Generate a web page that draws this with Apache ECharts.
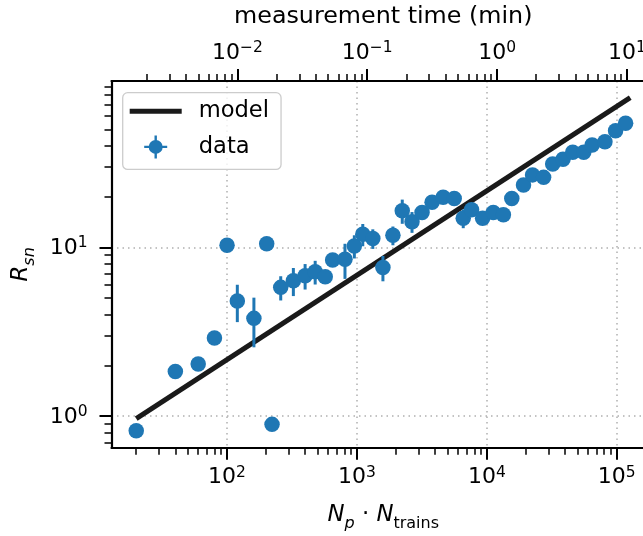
<!DOCTYPE html>
<html>
<head>
<meta charset="utf-8">
<script src="https://cdn.jsdelivr.net/npm/echarts@6/dist/echarts.min.js"></script>
<style>
html, body { margin: 0; padding: 0; background: #fff; }
#chart { width: 643px; height: 536px; }
</style>
</head>
<body>
<div id="chart"></div>
<script>
// measured points: N_p * N_trains, R_sn and its (symmetric) error
const nValues = [20, 40, 60, 80, 100, 120, 161, 202, 222, 259, 324, 399, 477, 570, 650, 809, 955, 1109, 1325, 1585,
    1892, 2233, 2654, 3171, 3788, 4609, 5608, 6580, 7625, 9275, 11210, 13410, 15560, 19150, 22480, 27350, 32130,
    38570, 45830, 55720, 64660, 81100, 97930, 117000];
const rValues = [0.82, 1.84, 2.04, 2.91, 10.3, 4.81, 3.80, 10.5, 0.895, 5.80, 6.35, 6.80, 7.18, 6.70, 8.42, 8.51, 10.2, 11.96, 11.3, 7.6,
    11.8, 16.5, 14.2, 16.1, 18.5, 19.8, 19.5, 14.9, 16.7, 14.9, 16.1, 15.6, 19.5, 23.4, 26.9, 26.0, 31.2,
    33.3, 36.6, 36.6, 40.4, 42.3, 49.1, 54.4];
const rErrors = [0.03, 0.08, 0.08, 0.12, 0.3, 1.2, 1.24, 0.3, 0.03, 0.95, 1.2, 1.17, 1.15, 0.4, 0.5, 2.0, 1.6, 1.8, 1.5, 1.3,
    1.5, 2.7, 2.0, 0.8, 0.8, 0.8, 0.8, 1.9, 0.9, 0.8, 0.8, 0.7, 0.8, 0.8, 0.9, 0.8, 0.9,
    1.0, 1.0, 1.0, 1.0, 1.0, 1.2, 1.3];

// model line end points
const modelN = [20, 127000];
const modelR = [0.967, 77.1];

// axis limits and ticks
const xRange = [12.9, 197000];
const timeRange = [1.074e-3, 16.43];
const yRange = [0.651, 96.8];
const xMajorTicks = [100, 1000, 10000, 100000];
const xMinorTicks = [20, 30, 40, 50, 60, 70, 80, 90, 200, 300, 400, 500, 600, 700, 800, 900,
    2000, 3000, 4000, 5000, 6000, 7000, 8000, 9000, 20000, 30000, 40000, 50000, 60000, 70000, 80000, 90000];
const timeMajorTicks = [0.01, 0.1, 1, 10];
const timeMinorTicks = [0.002, 0.003, 0.004, 0.005, 0.006, 0.007, 0.008, 0.009, 0.02, 0.03, 0.04, 0.05, 0.06, 0.07, 0.08, 0.09,
    0.2, 0.3, 0.4, 0.5, 0.6, 0.7, 0.8, 0.9, 2, 3, 4, 5, 6, 7, 8, 9];
const yMajorTicks = [1, 10];
const yMinorTicks = [0.7, 0.8, 0.9, 2, 3, 4, 5, 6, 7, 8, 9, 20, 30, 40, 50, 60, 70, 80, 90];

const FONT = "DejaVu Sans";
const BLUE = "#1f77b4";

let chart = echarts.init(document.getElementById("chart"), null, { renderer: "canvas" });

const powRich = {
    b: { fontSize: 22, fontFamily: FONT, color: "#000", verticalAlign: "bottom", padding: [2, 0, 0, 0] },
    s: { fontSize: 15.5, fontFamily: FONT, color: "#000", verticalAlign: "top" }
};

function powLabel(v) {
    let e = Math.round(Math.log10(v));
    return "{b|10}{s|" + (e < 0 ? "\u2212" + (-e) : e) + "}";
}

function majorAxis(extra) {
    return Object.assign({
        type: "log",
        logBase: 10,
        axisLine: { show: true, lineStyle: { color: "#000", width: 2.2 } },
        axisTick: { show: true, length: 12, lineStyle: { color: "#000", width: 2 } },
        axisLabel: { show: true, formatter: powLabel, rich: powRich, margin: 17 },
        splitLine: { show: false },
        axisPointer: { show: false }
    }, extra);
}

function minorAxis(extra) {
    return Object.assign({
        type: "log",
        logBase: 10,
        axisLine: { show: false },
        axisLabel: { show: false },
        axisTick: { show: true, length: 7, lineStyle: { color: "#000", width: 1.5 } },
        splitLine: { show: false },
        axisPointer: { show: false }
    }, extra);
}

const gridDots = { show: true, lineStyle: { color: "#b0b0b0", width: 1.5, type: [1.5, 4] } };

let option = {
    animation: false,
    backgroundColor: "#fff",
    grid: { left: 111.5, right: -12, top: 81, bottom: 88.3, outerBoundsMode: "none", containLabel: false },
    legend: {
        orient: "vertical",
        left: 122.7,
        top: 92.7,
        itemWidth: 64,
        itemHeight: 23,
        itemGap: 12.7,
        padding: [7, 12, 11, 7],
        backgroundColor: "rgba(255,255,255,0.8)",
        borderColor: "#cccccc",
        borderWidth: 1.3,
        borderRadius: 5,
        textStyle: { fontSize: 22.6, fontFamily: FONT, color: "#000" },
        data: [
            { name: "model", icon: "path://M0,0 M64,23 M0,9 L52,9 L52,14 L0,14 Z",
              itemStyle: { color: "#1a1a1a", borderWidth: 0 } },
            { name: "data", icon: "path://M0,0 M64,23 M24.8,0 L27.2,0 L27.2,23 L24.8,23 Z M14.5,10.3 L37.5,10.3 L37.5,12.7 L14.5,12.7 Z M33,11.5 A7,7 0 1 1 19,11.5 A7,7 0 1 1 33,11.5 Z",
              itemStyle: { color: BLUE, borderWidth: 0 } }
        ]
    },
    xAxis: [
        majorAxis({
            position: "bottom", min: xRange[0], max: xRange[1],
            axisTick: { show: true, length: 12, customValues: xMajorTicks, lineStyle: { color: "#000", width: 2 } },
            axisLabel: { show: true, customValues: xMajorTicks, formatter: powLabel, rich: powRich, margin: 17 },
            splitLine: gridDots,
            name: "{i|N}{ip|p}{t| \u00b7 }{i|N}{sub|trains}",
            nameLocation: "middle",
            nameGap: 56,
            nameTextStyle: {
                rich: {
                    i: { fontSize: 22.8, fontFamily: FONT, fontStyle: "italic", color: "#000", verticalAlign: "top", padding: [0, 0, 5, 0] },
                    t: { fontSize: 22.8, fontFamily: FONT, color: "#000", verticalAlign: "top", padding: [0, 0, 5, 0] },
                    ip: { fontSize: 16, fontFamily: FONT, fontStyle: "italic", color: "#000", verticalAlign: "bottom" },
                    sub: { fontSize: 16, fontFamily: FONT, color: "#000", verticalAlign: "bottom" }
                }
            }
        }),
        minorAxis({ position: "bottom", min: xRange[0], max: xRange[1],
            axisTick: { show: true, length: 7, customValues: xMinorTicks, lineStyle: { color: "#000", width: 1.5 } } }),
        majorAxis({
            position: "top", min: timeRange[0], max: timeRange[1],
            axisTick: { show: true, length: 12, customValues: timeMajorTicks, lineStyle: { color: "#000", width: 2 } },
            axisLabel: { show: true, customValues: timeMajorTicks, formatter: powLabel, rich: powRich, margin: 17 },
            name: "measurement time (min)",
            nameLocation: "middle",
            nameGap: 52,
            nameTextStyle: { fontSize: 23.8, fontFamily: FONT, color: "#000" }
        }),
        minorAxis({ position: "top", min: timeRange[0], max: timeRange[1],
            axisTick: { show: true, length: 7, customValues: timeMinorTicks, lineStyle: { color: "#000", width: 1.5 } } })
    ],
    yAxis: [
        majorAxis({
            position: "left", min: yRange[0], max: yRange[1],
            axisTick: { show: true, length: 12, customValues: yMajorTicks, lineStyle: { color: "#000", width: 2 } },
            axisLabel: { show: true, customValues: yMajorTicks, formatter: powLabel, rich: powRich, margin: 24 },
            splitLine: gridDots,
            name: "{i|R}{sub|sn}",
            nameLocation: "middle",
            nameRotate: 90,
            nameGap: 74,
            nameTextStyle: {
                rich: {
                    i: { fontSize: 22.8, fontFamily: FONT, fontStyle: "italic", color: "#000", verticalAlign: "top", padding: [0, 0, 5, 0] },
                    sub: { fontSize: 16, fontFamily: FONT, fontStyle: "italic", color: "#000", verticalAlign: "bottom" }
                }
            }
        }),
        minorAxis({ position: "left", min: yRange[0], max: yRange[1],
            axisTick: { show: true, length: 7, customValues: yMinorTicks, lineStyle: { color: "#000", width: 1.5 } } })
    ],
    series: [
        {
            name: "model",
            type: "line",
            xAxisIndex: 0,
            yAxisIndex: 0,
            z: 2,
            symbol: "none",
            color: "#1a1a1a",
            lineStyle: { color: "#1a1a1a", width: 5 },
            data: modelN.map((n, i) => [n, modelR[i]])
        },
        {
            name: "errors",
            type: "custom",
            xAxisIndex: 0,
            yAxisIndex: 0,
            z: 3,
            encode: { x: 0, y: 1 },
            data: nValues.map((n, i) => [n, rValues[i], rErrors[i]]),
            renderItem: function (params, api) {
                let x = api.value(0), y = api.value(1), e = api.value(2);
                let lo = api.coord([x, y - e]);
                let hi = api.coord([x, y + e]);
                return {
                    type: "line",
                    shape: { x1: lo[0], y1: lo[1], x2: hi[0], y2: hi[1] },
                    style: { stroke: BLUE, lineWidth: 3 }
                };
            }
        },
        {
            name: "data",
            type: "scatter",
            xAxisIndex: 0,
            yAxisIndex: 0,
            z: 4,
            symbol: "circle",
            symbolSize: 15.5,
            color: BLUE,
            itemStyle: { color: BLUE, opacity: 1 },
            data: nValues.map((n, i) => [n, rValues[i]])
        }
    ]
};

chart.setOption(option);
</script>
</body>
</html>
